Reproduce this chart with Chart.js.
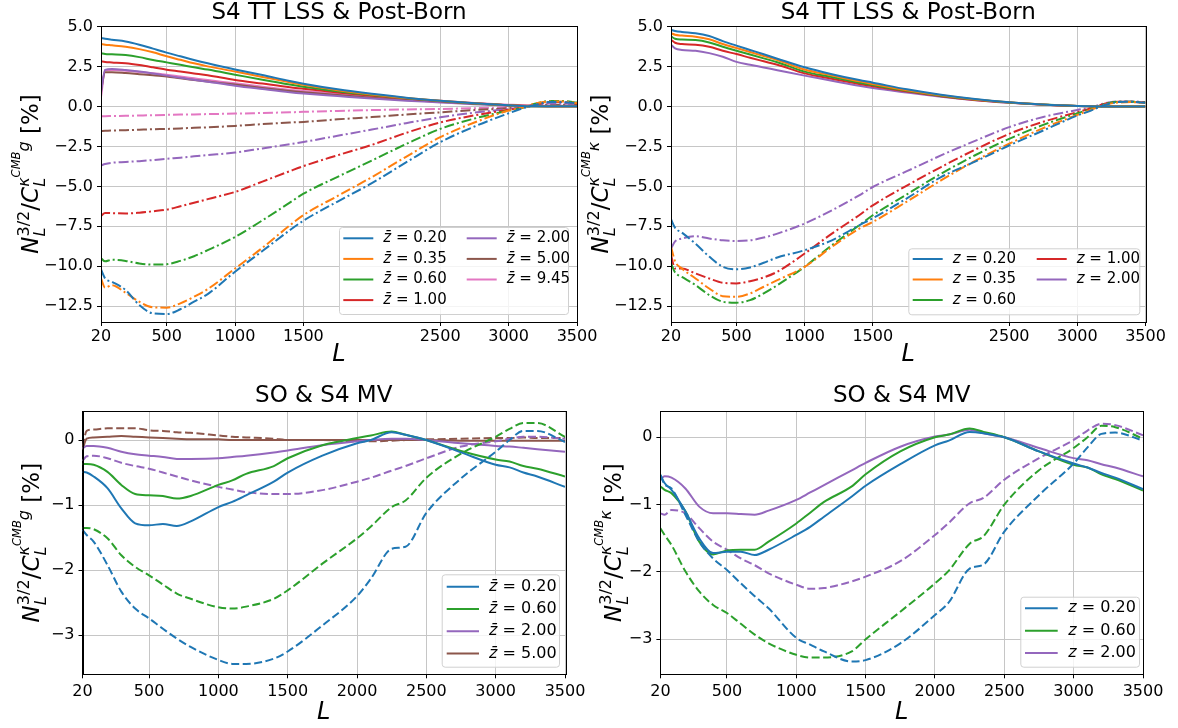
<!DOCTYPE html>
<html>
<head>
<meta charset="utf-8">
<script src="https://cdn.jsdelivr.net/npm/chart.js@4.4.1/dist/chart.umd.min.js"></script>
<style>
  body { margin: 0; background: #fff; width: 1178px; height: 728px; position: relative; overflow: hidden; }
  canvas { position: absolute; }
</style>
</head>
<body>
<canvas id="tl" width="605" height="370" style="left:0;top:0"></canvas>
<canvas id="tr" width="618" height="370" style="left:560px;top:0"></canvas>
<canvas id="bl" width="605" height="358" style="left:0;top:370px"></canvas>
<canvas id="br" width="618" height="358" style="left:560px;top:370px"></canvas>
<script>
// ---- data ----
const L_TOP = [20, 50, 100, 200, 300, 400, 500, 600, 700, 800, 1000, 1200, 1400, 1500, 1750, 2000, 2250, 2500, 2750, 3000, 3100, 3200, 3300, 3400, 3500];
const L_BOT = [20, 50, 100, 200, 300, 400, 500, 600, 700, 800, 1000, 1100, 1200, 1400, 1500, 1750, 2000, 2100, 2250, 2350, 2500, 2750, 3000, 3100, 3200, 3300, 3500];

const xTicksTop = [20, 500, 1000, 1500, 2500, 3000, 3500];
const xTicksBot = [20, 500, 1000, 1500, 2000, 2500, 3000, 3500];
const yTicksTop = [-12.5, -10, -7.5, -5, -2.5, 0, 2.5, 5];
const yTicksBot = [-3, -2, -1, 0];

const zTopLeft = ['0.20', '0.35', '0.60', '1.00', '2.00', '5.00', '9.45'];
const zTopRight = ['0.20', '0.35', '0.60', '1.00', '2.00'];
const zBotLeft = ['0.20', '0.60', '2.00', '5.00'];
const zBotRight = ['0.20', '0.60', '2.00'];

// top left: kappa-g, solid and dash-dot
const tlSolid020 = [4.30, 4.25, 4.19, 4.08, 3.88, 3.63, 3.38, 3.15, 2.92, 2.71, 2.33, 1.98, 1.60, 1.43, 1.08, 0.80, 0.56, 0.37, 0.21, 0.08, 0.04, 0.02, 0.02, 0.02, 0.02];
const tlSolid035 = [3.92, 3.88, 3.84, 3.75, 3.60, 3.40, 3.15, 2.93, 2.71, 2.52, 2.20, 1.86, 1.53, 1.36, 1.03, 0.76, 0.54, 0.36, 0.21, 0.08, 0.04, 0.02, 0.02, 0.02, 0.02];
const tlSolid060 = [3.35, 3.30, 3.28, 3.23, 3.10, 2.92, 2.77, 2.62, 2.46, 2.32, 2.00, 1.68, 1.38, 1.25, 0.96, 0.72, 0.52, 0.35, 0.20, 0.08, 0.04, 0.02, 0.02, 0.02, 0.02];
const tlSolid100 = [2.83, 2.80, 2.77, 2.71, 2.60, 2.46, 2.31, 2.20, 2.08, 1.96, 1.67, 1.44, 1.21, 1.12, 0.88, 0.68, 0.50, 0.34, 0.20, 0.08, 0.05, 0.03, 0.02, 0.02, 0.02];
const tlSolid200 = [0.90, 2.30, 2.35, 2.29, 2.20, 2.08, 1.94, 1.80, 1.68, 1.56, 1.31, 1.10, 0.90, 0.82, 0.66, 0.50, 0.37, 0.26, 0.15, 0.06, 0.03, 0.02, 0.02, 0.02, 0.02];
const tlSolid500 = [1.00, 2.15, 2.15, 2.10, 2.03, 1.96, 1.88, 1.77, 1.67, 1.57, 1.38, 1.17, 0.98, 0.90, 0.72, 0.56, 0.42, 0.30, 0.18, 0.08, 0.05, 0.03, 0.02, 0.02, 0.02];
const tlSolid945 = [0.60, 2.29, 2.30, 2.25, 2.17, 2.09, 2.00, 1.88, 1.77, 1.66, 1.46, 1.25, 1.04, 0.97, 0.80, 0.64, 0.49, 0.36, 0.23, 0.12, 0.08, 0.06, 0.05, 0.05, 0.05];
const tlDash020 = [-10.20, -10.77, -10.98, -11.50, -12.44, -12.96, -13.00, -12.70, -12.23, -11.75, -10.35, -9.05, -7.75, -7.15, -5.95, -4.80, -3.50, -2.23, -1.25, -0.42, -0.12, 0.12, 0.28, 0.28, 0.20];
const tlDash035 = [-10.77, -11.35, -11.19, -11.67, -12.23, -12.58, -12.60, -12.33, -11.92, -11.44, -10.15, -8.85, -7.45, -6.80, -5.60, -4.42, -3.15, -1.92, -1.00, -0.25, -0.06, 0.20, 0.32, 0.32, 0.22];
const tlDash060 = [-9.50, -9.70, -9.60, -9.67, -9.83, -9.90, -9.88, -9.67, -9.38, -9.00, -8.17, -7.13, -6.02, -5.46, -4.40, -3.38, -2.35, -1.40, -0.75, -0.25, -0.08, 0.20, 0.35, 0.35, 0.25];
const tlDash100 = [-6.85, -6.67, -6.68, -6.70, -6.65, -6.56, -6.46, -6.25, -6.03, -5.80, -5.35, -4.70, -4.05, -3.73, -3.05, -2.40, -1.65, -1.00, -0.55, -0.20, -0.06, 0.15, 0.28, 0.28, 0.20];
const tlDash200 = [-3.69, -3.60, -3.52, -3.47, -3.42, -3.35, -3.27, -3.20, -3.12, -3.04, -2.88, -2.62, -2.36, -2.22, -1.83, -1.44, -1.04, -0.67, -0.38, -0.15, -0.05, 0.10, 0.20, 0.20, 0.15];
const tlDash500 = [-1.54, -1.52, -1.50, -1.48, -1.45, -1.42, -1.40, -1.37, -1.33, -1.30, -1.21, -1.10, -1.00, -0.96, -0.80, -0.66, -0.50, -0.36, -0.22, -0.10, -0.04, 0.06, 0.12, 0.12, 0.10];
const tlDash945 = [-0.60, -0.60, -0.59, -0.58, -0.56, -0.54, -0.52, -0.50, -0.49, -0.47, -0.44, -0.40, -0.36, -0.33, -0.27, -0.22, -0.18, -0.15, -0.10, -0.04, 0.00, 0.05, 0.08, 0.08, 0.06];

// top right: kappa-kappa
const trSolid020 = [4.81, 4.74, 4.68, 4.60, 4.42, 4.10, 3.82, 3.55, 3.28, 3.00, 2.46, 2.03, 1.66, 1.50, 1.08, 0.74, 0.47, 0.27, 0.13, 0.04, 0.02, 0.01, 0.01, 0.00, 0.00];
const trSolid035 = [4.60, 4.50, 4.45, 4.38, 4.22, 3.92, 3.67, 3.42, 3.17, 2.92, 2.32, 1.95, 1.58, 1.42, 1.03, 0.71, 0.45, 0.27, 0.13, 0.04, 0.02, 0.01, 0.01, 0.00, 0.00];
const trSolid060 = [4.40, 4.25, 4.20, 4.17, 4.02, 3.75, 3.50, 3.26, 3.02, 2.78, 2.19, 1.85, 1.50, 1.35, 0.99, 0.68, 0.44, 0.26, 0.13, 0.04, 0.02, 0.01, 0.01, 0.00, 0.00];
const trSolid100 = [4.19, 4.00, 3.92, 3.88, 3.75, 3.50, 3.29, 3.06, 2.84, 2.62, 2.08, 1.75, 1.42, 1.28, 0.95, 0.65, 0.42, 0.25, 0.12, 0.04, 0.02, 0.01, 0.01, 0.00, 0.00];
const trSolid200 = [3.88, 3.65, 3.55, 3.50, 3.35, 3.12, 2.80, 2.62, 2.45, 2.28, 1.94, 1.62, 1.30, 1.16, 0.88, 0.62, 0.40, 0.24, 0.12, 0.04, 0.02, 0.01, 0.01, 0.00, 0.00];
const trDash020 = [-7.06, -7.60, -7.90, -8.60, -9.40, -10.04, -10.20, -10.08, -9.79, -9.46, -9.00, -8.38, -7.44, -7.00, -5.75, -4.42, -3.45, -2.44, -1.50, -0.56, -0.25, 0.10, 0.28, 0.30, 0.22];
const trDash035 = [-8.79, -9.70, -10.15, -10.77, -11.40, -11.88, -11.92, -11.71, -11.29, -10.88, -10.04, -8.79, -7.65, -7.23, -5.95, -4.63, -3.40, -2.33, -1.35, -0.52, -0.20, 0.12, 0.25, 0.28, 0.22];
const trDash060 = [-9.83, -10.40, -10.67, -11.19, -11.81, -12.23, -12.29, -12.13, -11.71, -11.19, -10.04, -8.69, -7.44, -6.81, -5.50, -4.21, -3.05, -2.02, -1.15, -0.42, -0.15, 0.15, 0.30, 0.30, 0.25];
const trDash100 = [-9.31, -10.15, -10.15, -10.46, -10.77, -11.04, -11.08, -10.94, -10.71, -10.35, -9.21, -7.96, -6.81, -6.19, -4.95, -3.79, -2.70, -1.71, -0.95, -0.35, -0.10, 0.18, 0.30, 0.30, 0.25];
const trDash200 = [-8.90, -8.45, -8.27, -8.13, -8.27, -8.38, -8.42, -8.38, -8.21, -7.96, -7.33, -6.50, -5.56, -5.04, -4.05, -3.06, -2.15, -1.29, -0.65, -0.21, -0.05, 0.20, 0.32, 0.32, 0.28];

// bottom left: SO (solid) and S4 (dashed), kappa-g
const blSolid020 = [-0.49, -0.50, -0.56, -0.74, -1.05, -1.28, -1.31, -1.29, -1.32, -1.25, -1.03, -0.95, -0.85, -0.64, -0.50, -0.24, -0.05, 0.00, 0.12, 0.08, 0.00, -0.19, -0.38, -0.42, -0.50, -0.56, -0.72];
const blSolid060 = [-0.37, -0.37, -0.38, -0.49, -0.69, -0.83, -0.85, -0.86, -0.90, -0.86, -0.69, -0.62, -0.52, -0.40, -0.28, -0.08, 0.03, 0.07, 0.13, 0.08, 0.00, -0.17, -0.30, -0.33, -0.40, -0.44, -0.56];
const blSolid200 = [-0.13, -0.09, -0.09, -0.12, -0.18, -0.22, -0.24, -0.26, -0.29, -0.29, -0.28, -0.26, -0.24, -0.19, -0.16, -0.08, -0.02, 0.00, 0.02, 0.02, 0.00, -0.05, -0.09, -0.10, -0.12, -0.14, -0.18];
const blSolid500 = [-0.15, 0.02, 0.04, 0.05, 0.06, 0.05, 0.04, 0.03, 0.02, 0.01, 0.01, 0.00, 0.00, 0.00, 0.00, 0.00, 0.00, 0.00, 0.00, 0.00, 0.00, -0.01, -0.01, -0.01, -0.01, -0.01, -0.01];
const blDash020 = [-1.38, -1.46, -1.56, -1.92, -2.33, -2.59, -2.74, -2.90, -3.05, -3.18, -3.38, -3.44, -3.44, -3.36, -3.25, -2.85, -2.40, -2.13, -1.67, -1.64, -1.12, -0.59, -0.18, 0.00, 0.14, 0.14, -0.03];
const blDash060 = [-1.35, -1.35, -1.37, -1.51, -1.77, -1.95, -2.08, -2.22, -2.36, -2.44, -2.57, -2.59, -2.56, -2.44, -2.31, -1.90, -1.51, -1.33, -1.03, -0.93, -0.58, -0.21, 0.05, 0.17, 0.26, 0.26, 0.05];
const blDash200 = [-0.32, -0.25, -0.24, -0.28, -0.35, -0.40, -0.44, -0.50, -0.56, -0.62, -0.72, -0.76, -0.80, -0.83, -0.83, -0.77, -0.64, -0.58, -0.47, -0.40, -0.28, -0.10, -0.02, 0.02, 0.05, 0.05, 0.02];
const blDash500 = [-0.10, 0.14, 0.16, 0.18, 0.18, 0.18, 0.15, 0.14, 0.12, 0.11, 0.07, 0.05, 0.04, 0.02, 0.00, 0.00, -0.02, -0.02, -0.01, 0.00, 0.01, 0.02, 0.03, 0.03, 0.04, 0.03, 0.03];

// bottom right: kappa-kappa
const brSolid020 = [-0.56, -0.68, -0.78, -1.10, -1.50, -1.72, -1.70, -1.70, -1.75, -1.67, -1.45, -1.33, -1.18, -0.88, -0.72, -0.40, -0.12, -0.05, 0.08, 0.06, 0.00, -0.21, -0.39, -0.45, -0.53, -0.60, -0.77];
const brSolid060 = [-0.73, -0.78, -0.83, -1.10, -1.55, -1.74, -1.68, -1.67, -1.67, -1.55, -1.28, -1.12, -0.96, -0.73, -0.55, -0.21, 0.00, 0.04, 0.13, 0.08, 0.00, -0.21, -0.41, -0.45, -0.55, -0.62, -0.79];
const brSolid200 = [-0.63, -0.58, -0.60, -0.76, -1.03, -1.13, -1.13, -1.14, -1.15, -1.09, -0.93, -0.82, -0.71, -0.49, -0.38, -0.14, 0.01, 0.04, 0.11, 0.06, 0.00, -0.16, -0.31, -0.34, -0.40, -0.45, -0.58];
const brDash020 = [-0.56, -0.70, -0.76, -1.15, -1.55, -1.80, -1.97, -2.17, -2.36, -2.54, -2.98, -3.08, -3.18, -3.33, -3.31, -3.06, -2.64, -2.45, -1.95, -1.89, -1.40, -0.86, -0.39, -0.15, 0.05, 0.07, -0.05];
const brDash060 = [-1.35, -1.45, -1.60, -1.99, -2.29, -2.49, -2.61, -2.77, -2.93, -3.06, -3.23, -3.27, -3.27, -3.18, -3.00, -2.59, -2.17, -1.98, -1.58, -1.47, -1.00, -0.49, -0.16, 0.00, 0.17, 0.15, -0.02];
const brDash200 = [-1.13, -1.15, -1.08, -1.13, -1.35, -1.55, -1.67, -1.80, -1.90, -2.02, -2.19, -2.25, -2.24, -2.14, -2.07, -1.84, -1.45, -1.27, -0.98, -0.90, -0.63, -0.31, -0.04, 0.10, 0.20, 0.18, 0.03];

// ---- styles ----
const FONT = '"DejaVu Sans", "Liberation Sans", sans-serif';
const COLORS = {
  '0.20': '#1f77b4', '0.35': '#ff7f0e', '0.60': '#2ca02c', '1.00': '#d62728',
  '2.00': '#9467bd', '5.00': '#8c564b', '9.45': '#e377c2'
};
const DASH_DOT = [10, 3, 2, 3];
const DASHED = [8, 3.5];
const GRID = '#c6c6c6';

function pairSeries(zList, solids, dashes, dashStyle) {
  const out = [];
  zList.forEach((z, i) => {
    out.push({ z, values: solids[i], dash: [], legend: true });
    out.push({ z, values: dashes[i], dash: dashStyle, legend: false });
  });
  return out;
}

function drawYLabel(ctx, cx, cy, last, f) {
  // [text, scale, italic, baseline shift (em), keep x]
  const runs = [
    ['N', 1, true, 0, false],
    ['L', 0.7, true, 0.3, true],
    ['3/2', 0.7, false, -0.42, false],
    ['/', 1, false, 0, false],
    ['C', 1, true, 0, false],
    ['L', 0.7, true, 0.3, true],
    ['\u03ba', 0.7, true, -0.42, false],
    ['CMB', 0.5, true, -0.78, false],
    [last, 0.7, true, -0.42, false],
    [' [%]', 1, false, 0, false]
  ];
  const fontOf = (r) => `${r[2] ? 'italic ' : ''}${(f * r[1]).toFixed(1)}px ${FONT}`;
  let total = 0;
  runs.forEach((r) => {
    ctx.font = fontOf(r);
    if (!r[4]) total += ctx.measureText(r[0]).width;
  });
  ctx.save();
  ctx.translate(cx, cy);
  ctx.rotate(-Math.PI / 2);
  ctx.fillStyle = '#000';
  ctx.textBaseline = 'alphabetic';
  ctx.textAlign = 'left';
  let x = -total / 2;
  runs.forEach((r) => {
    ctx.font = fontOf(r);
    ctx.fillText(r[0], x, 0.36 * f + r[3] * f);
    if (!r[4]) x += ctx.measureText(r[0]).width;
  });
  ctx.restore();
}

function drawLegend(ctx, chart, lg, prefix) {
  ctx.save();
  ctx.beginPath();
  ctx.roundRect(lg.x + 0.5, lg.y + 0.5, lg.w, lg.h, 3);
  ctx.fillStyle = 'rgba(255,255,255,0.8)';
  ctx.fill();
  ctx.strokeStyle = '#d0d0d0';
  ctx.lineWidth = 1;
  ctx.stroke();
  const items = chart.data.datasets.filter((d) => d.inLegend);
  items.forEach((d, i) => {
    const col = Math.floor(i / lg.rows);
    const row = i % lg.rows;
    const x = lg.x + lg.pad + col * lg.colW;
    const y = lg.y + lg.first + row * lg.rowH;
    ctx.beginPath();
    ctx.moveTo(x, y);
    ctx.lineTo(x + lg.lineW, y);
    ctx.strokeStyle = d.borderColor;
    ctx.lineWidth = 2;
    ctx.stroke();
    ctx.fillStyle = '#000';
    ctx.textBaseline = 'middle';
    ctx.textAlign = 'left';
    const tx = x + lg.lineW + lg.gap;
    ctx.font = `italic ${lg.font}px ${FONT}`;
    ctx.fillText(prefix, tx, y);
    const w = ctx.measureText(prefix).width;
    ctx.font = `${lg.font}px ${FONT}`;
    ctx.fillText(' = ' + d.zLabel, tx + w, y);
  });
  ctx.restore();
}

const decorPlugin = {
  id: 'decor',
  afterDraw(chart) {
    const p = chart.options.plugins.decor;
    const { ctx, chartArea: a } = chart;
    ctx.save();
    ctx.strokeStyle = '#000';
    ctx.lineWidth = 1;
    ctx.strokeRect(Math.round(a.left) + 0.5, Math.round(a.top) + 0.5, Math.round(a.right - a.left), Math.round(a.bottom - a.top));
    ctx.fillStyle = '#000';
    ctx.textAlign = 'center';
    ctx.textBaseline = 'middle';
    ctx.font = `${p.titleSize}px ${FONT}`;
    ctx.fillText(p.title, (a.left + a.right) / 2, a.top - p.titleGap);
    ctx.font = `italic 24px ${FONT}`;
    ctx.fillText('L', (a.left + a.right) / 2, a.bottom + p.xLabelGap);
    ctx.restore();
    drawYLabel(ctx, a.left - p.yLabelGap, (a.top + a.bottom) / 2, p.yLast, 23);
    drawLegend(ctx, chart, p.legend, p.zPrefix);
  }
};

function makePanel(id, cfg) {
  const canvas = document.getElementById(id);
  const datasets = cfg.series.map((s) => ({
    label: s.z,
    zLabel: s.z,
    inLegend: s.legend,
    data: cfg.L.map((x, i) => ({ x, y: s.values[i] })),
    borderColor: COLORS[s.z],
    borderWidth: 2,
    borderDash: s.dash,
    pointRadius: 0,
    fill: false,
    cubicInterpolationMode: 'monotone'
  }));

  return new Chart(canvas, {
    type: 'line',
    data: { datasets },
    plugins: [decorPlugin],
    options: {
      responsive: false,
      animation: false,
      events: [],
      parsing: false,
      layout: { padding: { top: cfg.area.t, right: canvas.width - cfg.area.r, left: 0, bottom: 0 } },
      plugins: {
        legend: { display: false },
        tooltip: { enabled: false },
        decor: cfg.decor
      },
      scales: {
        x: {
          type: 'linear',
          min: 20,
          max: 3500,
          afterBuildTicks: (scale) => { scale.ticks = cfg.xTicks.map((v) => ({ value: v })); },
          afterFit: (scale) => {
            scale.height = canvas.height - cfg.area.b;
            scale.paddingLeft = 0; scale.paddingRight = 0;
          },
          ticks: {
            autoSkip: false, maxRotation: 0, minRotation: 0, padding: cfg.xTickPad,
            color: '#000', font: { family: FONT, size: 16 },
            callback: (v) => String(v)
          },
          grid: { color: GRID, lineWidth: 1, drawTicks: true, tickLength: 4, tickColor: '#000', tickWidth: 1 },
          border: { display: true, color: '#000', width: 1 }
        },
        y: {
          type: 'linear',
          min: cfg.yMin,
          max: cfg.yMax,
          afterBuildTicks: (scale) => { scale.ticks = cfg.yTicks.map((v) => ({ value: v })); },
          afterFit: (scale) => {
            scale.width = cfg.area.l;
            scale.paddingTop = 0; scale.paddingBottom = 0;
          },
          ticks: {
            autoSkip: false, padding: 4,
            color: '#000', font: { family: FONT, size: 16 },
            callback: (v) => cfg.yFormat(v).replace('-', '\u2212')
          },
          grid: { color: GRID, lineWidth: 1, drawTicks: true, tickLength: 4, tickColor: '#000', tickWidth: 1 },
          border: { display: true, color: '#000', width: 1 }
        }
      }
    }
  });
}

makePanel('tl', {
  L: L_TOP,
  series: pairSeries(zTopLeft,
    [tlSolid020, tlSolid035, tlSolid060, tlSolid100, tlSolid200, tlSolid500, tlSolid945],
    [tlDash020, tlDash035, tlDash060, tlDash100, tlDash200, tlDash500, tlDash945], DASH_DOT),
  area: { l: 101, r: 577, t: 26, b: 322 },
  xTicks: xTicksTop, yTicks: yTicksTop, yMin: -13.5, yMax: 5.05, xTickPad: 1,
  yFormat: (v) => v.toFixed(1),
  decor: {
    title: 'S4 TT LSS & Post-Born', titleSize: 23, titleGap: 13, xLabelGap: 33, yLabelGap: 71,
    yLast: 'g', zPrefix: 'z\u0304',
    legend: { x: 339, y: 227, w: 229, h: 87, rows: 4, colW: 123.4, pad: 4.3, lineW: 30, gap: 10, first: 11.3, rowH: 20.6, font: 15 }
  }
});

makePanel('tr', {
  L: L_TOP,
  series: pairSeries(zTopRight,
    [trSolid020, trSolid035, trSolid060, trSolid100, trSolid200],
    [trDash020, trDash035, trDash060, trDash100, trDash200], DASH_DOT),
  area: { l: 111, r: 585.5, t: 26, b: 322 },
  xTicks: xTicksTop, yTicks: yTicksTop, yMin: -13.5, yMax: 5.05, xTickPad: 1,
  yFormat: (v) => v.toFixed(1),
  decor: {
    title: 'S4 TT LSS & Post-Born', titleSize: 23, titleGap: 13, xLabelGap: 33, yLabelGap: 71,
    yLast: '\u03ba', zPrefix: 'z',
    legend: { x: 348.3, y: 248.3, w: 231, h: 66, rows: 3, colW: 124, pad: 4.4, lineW: 30, gap: 10, first: 10.7, rowH: 20.5, font: 15 }
  }
});

makePanel('bl', {
  L: L_BOT,
  series: pairSeries(zBotLeft,
    [blSolid020, blSolid060, blSolid200, blSolid500],
    [blDash020, blDash060, blDash200, blDash500], DASHED),
  area: { l: 82.5, r: 565, t: 41, b: 304.3 },
  xTicks: xTicksBot, yTicks: yTicksBot, yMin: -3.6, yMax: 0.446, xTickPad: 4,
  yFormat: (v) => String(v),
  decor: {
    title: 'SO & S4 MV', titleSize: 23, titleGap: 15, xLabelGap: 38.5, yLabelGap: 52,
    yLast: 'g', zPrefix: 'z\u0304',
    legend: { x: 441.7, y: 204.3, w: 117.3, h: 92.4, rows: 4, colW: 0, pad: 5, lineW: 32.3, gap: 10, first: 12.4, rowH: 22.3, font: 16 }
  }
});

makePanel('br', {
  L: L_BOT,
  series: pairSeries(zBotRight,
    [brSolid020, brSolid060, brSolid200],
    [brDash020, brDash060, brDash200], DASHED),
  area: { l: 100.4, r: 583, t: 41, b: 304.3 },
  xTicks: xTicksBot, yTicks: yTicksBot, yMin: -3.52, yMax: 0.39, xTickPad: 4,
  yFormat: (v) => String(v),
  decor: {
    title: 'SO & S4 MV', titleSize: 23, titleGap: 15, xLabelGap: 38.5, yLabelGap: 48,
    yLast: '\u03ba', zPrefix: 'z',
    legend: { x: 460.3, y: 226.7, w: 118.7, h: 70, rows: 3, colW: 0, pad: 4.7, lineW: 32.7, gap: 10.6, first: 11.6, rowH: 22.4, font: 16 }
  }
});
</script>
</body>
</html>
